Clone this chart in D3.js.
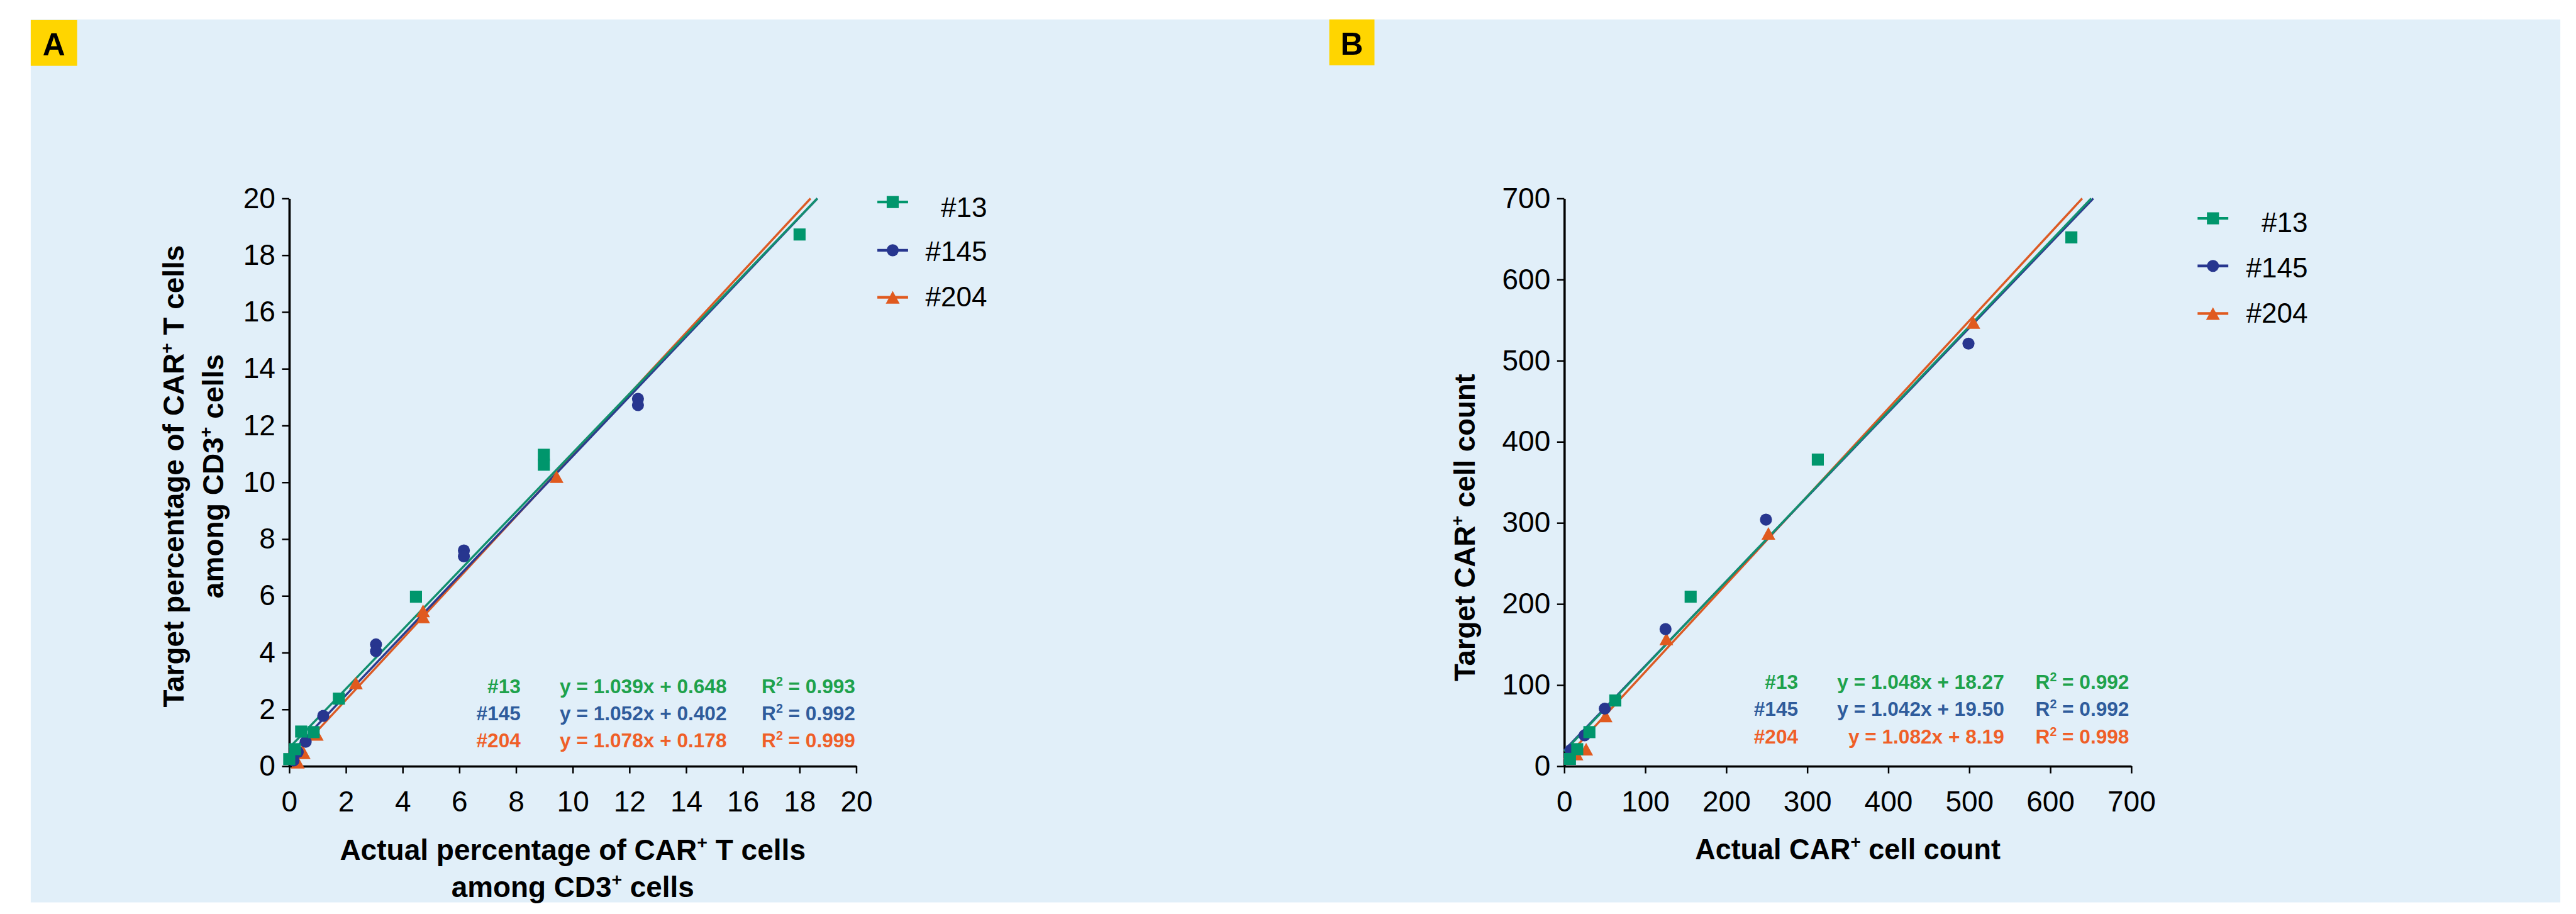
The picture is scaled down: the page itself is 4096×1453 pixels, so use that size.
<!DOCTYPE html>
<html>
<head>
<meta charset="utf-8">
<script src="https://cdn.jsdelivr.net/npm/d3@7"></script>
<style>
  html, body { margin: 0; padding: 0; background: #fff; overflow: hidden; }
  svg { display: block; }
</style>
</head>
<body>
<svg id="chart"></svg>
<script>
// --- data ---
const seriesNames = ["#13", "#145", "#204"];

// panel A: percentage of CAR+ T cells among CD3+ cells
const pctActual13  = [0, 0.2, 0.42, 0.86, 1.75, 4.47, 8.98, 8.98, 18.0];
const pctTarget13  = [0.25, 0.6, 1.22, 1.2, 2.38, 5.97, 10.97, 10.62, 18.73];
const pctActual145 = [0.15, 0.3, 0.58, 1.2, 3.06, 3.06, 6.16, 6.16, 12.3, 12.3];
const pctTarget145 = [0.2, 0.5, 0.86, 1.77, 4.29, 4.05, 7.6, 7.39, 12.94, 12.72];
const pctActual204 = [0.3, 0.51, 0.97, 2.35, 4.72, 4.72, 9.43];
const pctTarget204 = [0.14, 0.47, 1.12, 2.93, 5.47, 5.26, 10.2];

// panel B: CAR+ cell counts
const cntActual13  = [7, 16, 31, 63, 156, 313, 626];
const cntTarget13  = [9, 21, 42, 81, 209, 378, 652];
const cntActual145 = [8, 25, 50, 125, 249, 499];
const cntTarget145 = [20, 38, 71, 169, 304, 521];
const cntActual204 = [15, 27, 51, 126, 252, 505];
const cntTarget204 = [15, 21, 62, 157, 287, 547];

// linear fits printed on the figure
const fitSlopeA     = [1.039, 1.052, 1.078];
const fitInterceptA = [0.648, 0.402, 0.178];
const fitR2A        = [0.993, 0.992, 0.999];
const fitSlopeB     = [1.048, 1.042, 1.082];
const fitInterceptB = [18.27, 19.50, 8.19];
const fitR2B        = [0.992, 0.992, 0.998];

const ticksA = [0, 2, 4, 6, 8, 10, 12, 14, 16, 18, 20];
const ticksB = [0, 100, 200, 300, 400, 500, 600, 700];

// --- styling ---
const markerColor = ["#00966c", "#27368f", "#e05a1f"];
const lineColor   = ["#12906f", "#2c3b8e", "#dc5a24"];
const noteColor   = ["#1ea24c", "#2f5c9c", "#ef5f28"];
const shapes      = ["square", "circle", "triangle"];
const FONT = "'Liberation Sans', Arial, Helvetica, sans-serif";

const W = 4275, H = 1516;
const svg = d3.select("#chart")
    .attr("width", 4096)
    .attr("height", 1453)
    .attr("viewBox", `0 0 ${W} ${H}`);

svg.append("rect").attr("width", W).attr("height", H).attr("fill", "#fff");
svg.append("rect")
    .attr("x", 51).attr("y", 32)
    .attr("width", 4198).attr("height", 1465)
    .attr("fill", "#e1eff9");

function markerPath(shape, s) {
    if (shape === "square") return `M${-s / 2},${-s / 2}h${s}v${s}h${-s}Z`;
    if (shape === "circle") return d3.symbol(d3.symbolCircle, Math.PI * (s / 2) * (s / 2))();
    const w = s * 1.15, h = s * 1.05;
    return `M0,${-h / 2}L${w / 2},${h / 2}L${-w / 2},${h / 2}Z`;
}

// text with superscripts: parts = [[str, isSup], ...]
function richText(g, parts, size) {
    const t = g.append("text");
    let up = false;
    parts.forEach(([s, sup]) => {
        const ts = t.append("tspan").text(s);
        if (sup && !up) { ts.attr("dy", -size * 0.38).attr("font-size", size * 0.62); up = true; }
        else if (!sup && up) { ts.attr("dy", size * 0.38); up = false; }
        else if (sup) ts.attr("font-size", size * 0.62);
    });
    return t;
}

const panels = [
    {
        letter: "A", badge: [51, 33, 77, 76],
        x0: 480, x1: 1421, y0: 1271, y1: 329,
        domain: [0, 20], ticks: ticksA,
        actual: [pctActual13, pctActual145, pctActual204],
        target: [pctTarget13, pctTarget145, pctTarget204],
        slope: fitSlopeA, intercept: fitInterceptA, r2: fitR2A, dec: 3,
        xTitle: [
            { parts: [["Actual percentage of CAR"], ["+", true], [" T cells"]], y: 1426, len: 773 },
            { parts: [["among CD3"], ["+", true], [" cells"]], y: 1488, len: 403 }
        ],
        yTitle: [
            { parts: [["Target percentage of CAR"], ["+", true], [" T cells"]], x: 305, len: 767 },
            { parts: [["among CD3"], ["+", true], [" cells"]], x: 370, len: 405 }
        ],
        yTitleCenter: 790,
        legend: { lx: [1456, 1507], rows: [335, 415, 493], textRight: 1638, base: [360, 433, 508] },
        note: { labelRight: 864, eqRight: 1206, r2Left: 1264, base: [1150, 1195, 1240] }
    },
    {
        letter: "B", badge: [2206, 32, 75, 76],
        x0: 2596, x1: 3537, y0: 1271, y1: 329,
        domain: [0, 700], ticks: ticksB,
        actual: [cntActual13, cntActual145, cntActual204],
        target: [cntTarget13, cntTarget145, cntTarget204],
        slope: fitSlopeB, intercept: fitInterceptB, r2: fitR2B, dec: 2,
        xTitle: [
            { parts: [["Actual CAR"], ["+", true], [" cell count"]], y: 1425, len: 507 }
        ],
        yTitle: [
            { parts: [["Target CAR"], ["+", true], [" cell count"]], x: 2447, len: 510 }
        ],
        yTitleCenter: 875,
        legend: { lx: [3647, 3698], rows: [362, 441, 520], textRight: 3830, base: [385, 460, 535] },
        note: { labelRight: 2984, eqRight: 3326, r2Left: 3378, base: [1143, 1188, 1233] }
    }
];

panels.forEach(p => {
    const g = svg.append("g");

    // letter badge
    const [bx, by, bw, bh] = p.badge;
    g.append("rect").attr("x", bx).attr("y", by).attr("width", bw).attr("height", bh).attr("fill", "#ffd500");
    g.append("text")
        .attr("x", bx + bw / 2).attr("y", by + 59)
        .attr("text-anchor", "middle")
        .attr("font-family", "'Liberation Sans Narrow', " + FONT)
        .attr("font-weight", "bold").attr("font-size", 52)
        .text(p.letter);

    const x = d3.scaleLinear().domain(p.domain).range([p.x0, p.x1]);
    const y = d3.scaleLinear().domain(p.domain).range([p.y0, p.y1]);

    // axes
    const xAxis = g.append("g").attr("transform", `translate(0,${p.y0})`)
        .call(d3.axisBottom(x).tickValues(p.ticks).tickSize(12).tickSizeOuter(0).tickPadding(29));
    const yAxis = g.append("g").attr("transform", `translate(${p.x0},0)`)
        .call(d3.axisLeft(y).tickValues(p.ticks).tickSize(12).tickSizeOuter(0).tickPadding(11));
    [xAxis, yAxis].forEach(a => {
        a.attr("font-family", FONT).attr("font-size", 48);
        a.select(".domain").attr("stroke", "#000").attr("stroke-width", 3.8);
        a.selectAll(".tick line").attr("stroke", "#000").attr("stroke-width", 2.6);
        a.selectAll(".tick text").attr("fill", "#000");
    });

    // fit lines
    [2, 1, 0].forEach(i => {
        const m = p.slope[i], b = p.intercept[i];
        const xe = Math.min(p.domain[1], (p.domain[1] - b) / m);
        g.append("line")
            .attr("x1", x(0)).attr("y1", y(b))
            .attr("x2", x(xe)).attr("y2", y(m * xe + b))
            .attr("stroke", lineColor[i]).attr("stroke-width", 3.6);
    });

    // data points
    [2, 1, 0].forEach(i => {
        const pts = p.actual[i].map((v, k) => [v, p.target[i][k]]);
        g.selectAll(null).data(pts).enter().append("path")
            .attr("d", markerPath(shapes[i], 20))
            .attr("transform", d => `translate(${x(d[0])},${y(d[1])})`)
            .attr("fill", markerColor[i]);
    });

    // legend
    const L = p.legend;
    seriesNames.forEach((name, i) => {
        const ry = L.rows[i];
        g.append("line")
            .attr("x1", L.lx[0]).attr("x2", L.lx[1]).attr("y1", ry).attr("y2", ry)
            .attr("stroke", markerColor[i]).attr("stroke-width", 4.5);
        g.append("path")
            .attr("d", markerPath(shapes[i], 20))
            .attr("transform", `translate(${(L.lx[0] + L.lx[1]) / 2},${ry})`)
            .attr("fill", markerColor[i]);
        g.append("text")
            .attr("x", L.textRight).attr("y", L.base[i])
            .attr("text-anchor", "end")
            .attr("font-family", FONT).attr("font-size", 46)
            .text(name);
    });

    // fit equations
    const N = p.note;
    seriesNames.forEach((name, i) => {
        const common = t => t.attr("font-family", FONT).attr("font-weight", "bold")
            .attr("font-size", 33).attr("fill", noteColor[i]);
        g.append("text").call(common)
            .attr("x", N.labelRight).attr("y", N.base[i]).attr("text-anchor", "end")
            .text(name);
        g.append("text").call(common)
            .attr("x", N.eqRight).attr("y", N.base[i]).attr("text-anchor", "end")
            .text(`y = ${p.slope[i].toFixed(3)}x + ${p.intercept[i].toFixed(p.dec)}`);
        richText(g, [["R"], ["2", true], [" = " + p.r2[i].toFixed(3)]], 33).call(common)
            .attr("x", N.r2Left).attr("y", N.base[i]);
    });

    // axis titles
    const cx = (p.x0 + p.x1) / 2;
    p.xTitle.forEach(t => {
        richText(g, t.parts, 48)
            .attr("x", cx).attr("y", t.y)
            .attr("text-anchor", "middle")
            .attr("font-family", FONT).attr("font-weight", "bold").attr("font-size", 48)
            .attr("textLength", t.len).attr("lengthAdjust", "spacingAndGlyphs");
    });
    p.yTitle.forEach(t => {
        richText(g, t.parts, 48)
            .attr("transform", `translate(${t.x},${p.yTitleCenter}) rotate(-90)`)
            .attr("text-anchor", "middle")
            .attr("font-family", FONT).attr("font-weight", "bold").attr("font-size", 48)
            .attr("textLength", t.len).attr("lengthAdjust", "spacingAndGlyphs");
    });
});
</script>
</body>
</html>
